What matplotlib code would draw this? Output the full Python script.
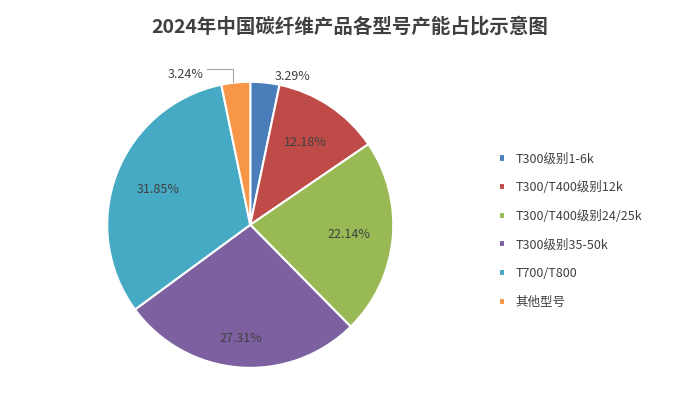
import matplotlib
matplotlib.use('Agg')
import matplotlib.pyplot as plt
import numpy as np

plt.rcParams['font.family'] = ['Noto Sans CJK SC', 'DejaVu Sans']

categories = ['T300级别1-6k', 'T300/T400级别12k', 'T300/T400级别24/25k',
              'T300级别35-50k', 'T700/T800', '其他型号']
shares = [3.29, 12.18, 22.14, 27.31, 31.85, 3.24]
colors = ['#4a7ebb', '#be4b48', '#98b954', '#7d60a0', '#46aac5', '#f79646']

fig = plt.figure(figsize=(7, 4.11), dpi=100)
fig.text(0.5, 0.935, '2024年中国碳纤维产品各型号产能占比示意图', ha='center',
         va='center', fontsize=14, fontweight='bold', color='#404040')

ax = fig.add_axes([0.153, 0.105, 0.409, 0.696])
wedges, _ = ax.pie(shares, colors=colors, startangle=90, counterclock=False,
                   wedgeprops=dict(edgecolor='white', linewidth=1.5))
ax.set_xlim(-1, 1)
ax.set_ylim(-1, 1)
ax.set_aspect('equal')

# percentage labels
cum = 0
for i, s in enumerate(shares):
    mid = np.deg2rad(90 - (cum + s / 2) / 100 * 360)
    cum += s
    txt = '{:.2f}%'.format(s)
    if i == 0:
        ax.text(0.17, 1.04, txt, ha='left', va='center', fontsize=9, color='#404040')
    elif i == 5:
        ax.text(-0.33, 1.05, txt, ha='right', va='center', fontsize=9, color='#404040')
        ax.plot([-0.3, -0.12, -0.12], [1.09, 1.09, 1.0], color='#a6a6a6', lw=0.8,
                clip_on=False, zorder=5)
    else:
        r = 0.8 if i == 3 else 0.69
        ax.text(r * np.cos(mid), r * np.sin(mid), txt, ha='center', va='center',
                fontsize=9, color='#404040')

ax.legend(wedges, categories, loc='center left', bbox_to_anchor=(1.33, 0.48),
          frameon=False, fontsize=9, handlelength=0.5, handleheight=0.5,
          labelspacing=1.25, labelcolor='#404040')

fig.savefig('out.png', dpi=100)
